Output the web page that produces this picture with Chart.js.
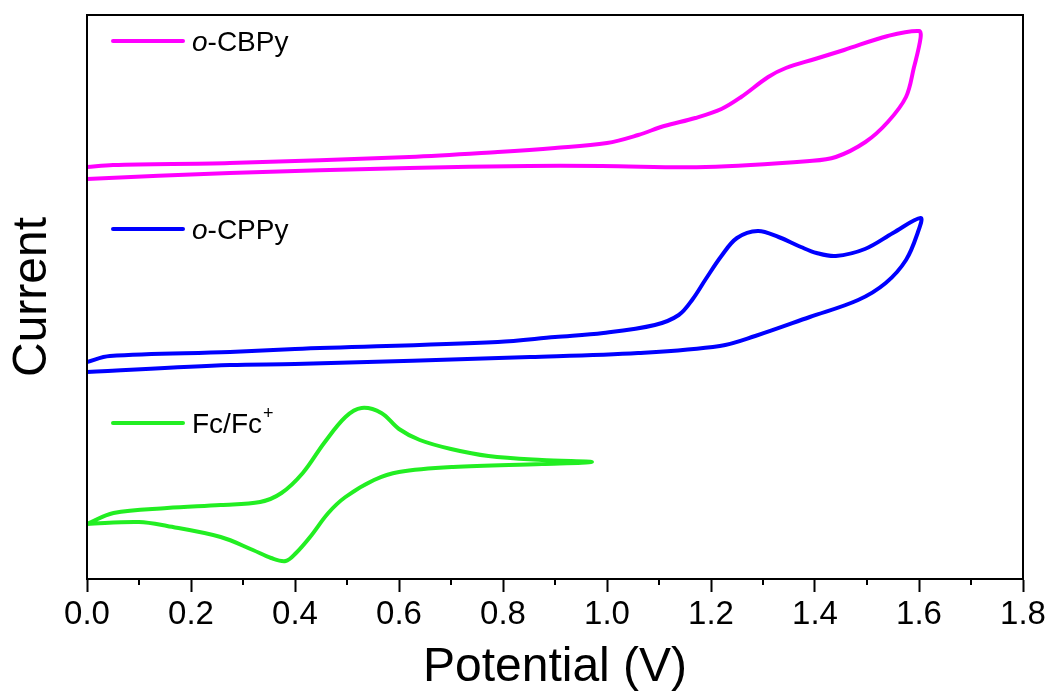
<!DOCTYPE html>
<html>
<head>
<meta charset="utf-8">
<title>Cyclic voltammograms</title>
<script src="https://cdn.jsdelivr.net/npm/chart.js@4"></script>
<style>
  html, body { margin: 0; padding: 0; background: #fff; }
  #wrap { width: 1054px; height: 695px; }
</style>
</head>
<body>
<div id="wrap"><canvas id="cv-chart" width="1054" height="695"></canvas></div>
<script>
// Values (potential in V, current in arbitrary units)
const cbpyPotential = [0, 0.05, 0.275, 0.62, 0.79, 0.9, 1.0, 1.06, 1.11, 1.17, 1.22, 1.258, 1.31, 1.344, 1.4, 1.456, 1.54, 1.60,
  1.603, 1.59, 1.575, 1.54, 1.497, 1.44, 1.39, 1.19, 0.99, 0.85, 0.62, 0.275, 0];
const cbpyCurrent = [41.2, 41.4, 41.6, 42.2, 42.7, 43.1, 43.6, 44.4, 45.3, 46.1, 47.0, 48.2, 50.2, 51.1, 52.0, 52.9, 54.3, 54.8,
  54.1, 51.1, 48.2, 45.7, 43.7, 42.2, 41.8, 41.2, 41.3, 41.3, 41.1, 40.6, 40.0];

const cppyPotential = [0, 0.044, 0.275, 0.4, 0.79, 0.9, 0.993, 1.092, 1.138, 1.165, 1.19, 1.22, 1.25, 1.29, 1.33,
  1.373, 1.403, 1.44, 1.496, 1.55, 1.603,
  1.598, 1.575, 1.536, 1.483, 1.39, 1.285, 1.217, 1.06, 0.852, 0.4, 0.275, 0];
const cppyCurrent = [21.7, 22.3, 22.7, 23.0, 23.7, 24.2, 24.6, 25.4, 26.4, 28.0, 30.0, 32.3, 34.1, 34.8, 34.2,
  33.2, 32.6, 32.3, 33.0, 34.6, 36.1,
  34.7, 31.9, 29.6, 27.9, 26.2, 24.3, 23.3, 22.6, 22.2, 21.5, 21.4, 20.7];

const fcPotential = [0, 0.051, 0.154, 0.257, 0.333, 0.374, 0.415, 0.456, 0.497, 0.528, 0.566, 0.6, 0.64, 0.7, 0.772, 0.875, 0.971,
  0.875, 0.704, 0.6, 0.552, 0.497, 0.464, 0.429, 0.402, 0.382, 0.354, 0.319, 0.257, 0.154, 0.1, 0];
const fcCurrent = [5.5, 6.6, 7.1, 7.4, 7.7, 8.6, 10.6, 13.6, 16.2, 17.1, 16.6, 15.0, 13.9, 13.0, 12.3, 11.9, 11.7,
  11.5, 11.2, 10.7, 9.9, 8.2, 6.6, 4.2, 2.6, 1.8, 2.1, 2.9, 4.2, 5.3, 5.7, 5.5];

const seriesNames = ['o-CBPy', 'o-CPPy', 'Fc/Fc+'];
const seriesColors = ['#ff00ff', '#0000ff', '#22ee22'];

const xMin = 0;
const xMax = 1.8;
const xStep = 0.2;

function toPoints(xs, ys) {
  return xs.map((x, i) => ({ x: x, y: ys[i] }));
}

// Frame round the plot area and the short minor ticks between labels
const framePlugin = {
  id: 'frame',
  afterDraw(chart) {
    const { ctx, chartArea } = chart;
    const xScale = chart.scales.x;
    ctx.save();
    ctx.strokeStyle = '#000';
    ctx.lineWidth = 2;
    ctx.strokeRect(chartArea.left, chartArea.top, chartArea.right - chartArea.left, chartArea.bottom - chartArea.top);

    ctx.beginPath();
    for (let v = xMin + xStep / 2; v < xMax; v += xStep) {
      const px = Math.round(xScale.getPixelForValue(v));
      ctx.moveTo(px, chartArea.bottom);
      ctx.lineTo(px, chartArea.bottom + 6);
    }
    ctx.stroke();
    ctx.restore();
  }
};

// Legend entries sit next to each curve, with an italic "o" and a superscript "+"
const curveLabelPlugin = {
  id: 'curveLabels',
  afterDraw(chart, args, opts) {
    const { ctx, chartArea } = chart;
    ctx.save();
    opts.items.forEach(item => {
      const y = chartArea.top + item.offsetY;
      const x0 = chartArea.left + 26;
      ctx.strokeStyle = item.color;
      ctx.lineWidth = 4;
      ctx.lineCap = 'round';
      ctx.beginPath();
      ctx.moveTo(x0, y);
      ctx.lineTo(x0 + 70, y);
      ctx.stroke();

      let tx = chartArea.left + 105;
      const base = y + 10;
      ctx.fillStyle = '#000';
      ctx.textBaseline = 'alphabetic';
      item.parts.forEach(part => {
        if (part.sup) {
          ctx.font = '18px "Liberation Sans", Arial, sans-serif';
          ctx.fillText(part.text, tx + 1, base - 14);
          tx += ctx.measureText(part.text).width + 1;
        } else {
          ctx.font = (part.italic ? 'italic ' : '') + '28px "Liberation Sans", Arial, sans-serif';
          ctx.fillText(part.text, tx, base);
          tx += ctx.measureText(part.text).width;
        }
      });
    });
    ctx.restore();
  }
};

const ctx = document.getElementById('cv-chart').getContext('2d');

new Chart(ctx, {
  type: 'scatter',
  data: {
    datasets: [
      { label: seriesNames[0], data: toPoints(cbpyPotential, cbpyCurrent), borderColor: seriesColors[0] },
      { label: seriesNames[1], data: toPoints(cppyPotential, cppyCurrent), borderColor: seriesColors[1] },
      { label: seriesNames[2], data: toPoints(fcPotential, fcCurrent), borderColor: seriesColors[2] }
    ].map(ds => Object.assign(ds, {
      showLine: true,
      borderWidth: 4,
      tension: 0.35,
      pointRadius: 0,
      pointHoverRadius: 0,
      fill: false
    }))
  },
  options: {
    responsive: false,
    animation: false,
    events: [],
    layout: { padding: { top: 15, right: 31, left: 0, bottom: 0 } },
    plugins: {
      legend: { display: false },
      tooltip: { enabled: false },
      curveLabels: {
        items: [
          { color: seriesColors[0], offsetY: 26, parts: [{ text: 'o', italic: true }, { text: '-CBPy' }] },
          { color: seriesColors[1], offsetY: 214, parts: [{ text: 'o', italic: true }, { text: '-CPPy' }] },
          { color: seriesColors[2], offsetY: 408, parts: [{ text: 'Fc/Fc' }, { text: '+', sup: true }] }
        ]
      }
    },
    scales: {
      x: {
        type: 'linear',
        min: xMin,
        max: xMax,
        afterFit: scale => { scale.height = 116; },
        border: { display: true, color: '#000', width: 2 },
        grid: {
          display: true,
          drawOnChartArea: false,
          drawTicks: true,
          tickLength: 13,
          tickWidth: 2,
          tickColor: '#000'
        },
        ticks: {
          stepSize: xStep,
          padding: 3,
          color: '#000',
          maxRotation: 0,
          font: { family: '"Liberation Sans", Arial, sans-serif', size: 33 },
          callback: v => Number(v).toFixed(1)
        },
        title: {
          display: true,
          text: 'Potential (V)',
          color: '#000',
          padding: { top: 0, bottom: 3 },
          font: { family: '"Liberation Sans", Arial, sans-serif', size: 48, lineHeight: 1 }
        }
      },
      y: {
        type: 'linear',
        min: 0,
        max: 56.4,
        afterFit: scale => { scale.width = 87; },
        border: { display: true, color: '#000', width: 2 },
        grid: { display: false },
        ticks: { display: false },
        title: {
          display: true,
          text: 'Current',
          color: '#000',
          padding: { top: 9, bottom: 0 },
          font: { family: '"Liberation Sans", Arial, sans-serif', size: 48, lineHeight: 1 }
        }
      }
    }
  },
  plugins: [framePlugin, curveLabelPlugin]
});
</script>
</body>
</html>
